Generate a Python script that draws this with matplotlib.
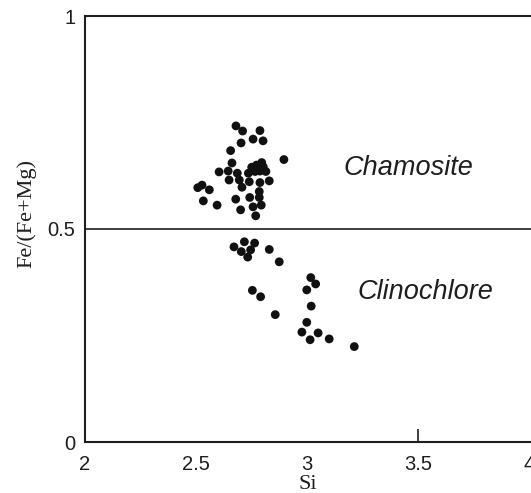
import matplotlib
matplotlib.use("Agg")
import matplotlib.pyplot as plt

# Si vs Fe/(Fe+Mg) chlorite analyses
si = [2.680, 2.710, 2.788, 2.757, 2.802, 2.703, 2.656, 2.896, 2.662,
      2.751, 2.773, 2.796, 2.803, 2.788, 2.766, 2.736, 2.815, 2.776,
      2.604, 2.645, 2.686, 2.649, 2.695, 2.740, 2.788, 2.830, 2.707,
      2.508, 2.527, 2.560, 2.785, 2.785, 2.533, 2.595, 2.679, 2.742,
      2.794, 2.757, 2.701, 2.769,
      2.671, 2.718, 2.764, 2.704, 2.746, 2.733, 2.830, 2.875, 3.017,
      3.039, 2.999, 2.754, 2.791, 3.019, 2.857, 2.999, 2.977, 3.050,
      3.014, 3.100, 3.213]
fe_ratio = [0.742, 0.730, 0.731, 0.711, 0.707, 0.702, 0.684, 0.663, 0.655,
            0.645, 0.650, 0.656, 0.646, 0.636, 0.635, 0.631, 0.635, 0.642,
            0.634, 0.636, 0.631, 0.615, 0.615, 0.611, 0.609, 0.613, 0.598,
            0.597, 0.603, 0.592, 0.588, 0.574, 0.566, 0.556, 0.570, 0.574,
            0.556, 0.552, 0.545, 0.531,
            0.458, 0.470, 0.467, 0.447, 0.451, 0.434, 0.452, 0.423, 0.386,
            0.371, 0.357, 0.356, 0.341, 0.319, 0.299, 0.281, 0.258, 0.256,
            0.240, 0.242, 0.224]

boundary = 0.5
x_ticks = [2, 2.5, 3, 3.5, 4]
x_tick_labels = ["2", "2.5", "3", "3.5", "4"]
y_ticks = [0, 0.5, 1]
y_tick_labels = ["0", "0.5", "1"]

ink = "#1e1e1e"
sans = "Liberation Sans"
serif = "Liberation Serif"

fig = plt.figure(figsize=(5.31, 4.93), dpi=100)
ax = fig.add_axes([85 / 531, 51 / 493, 446 / 531, 426 / 493])

ax.scatter(si, fe_ratio, s=40, color="#111111", edgecolors="none", zorder=3)
ax.axhline(boundary, color=ink, lw=1.2)

ax.text(3.455, 0.643, "Chamosite", fontsize=19.5, style="italic",
        family=sans, color=ink, ha="center", va="center")
ax.text(3.532, 0.352, "Clinochlore", fontsize=19.5, style="italic",
        family=sans, color=ink, ha="center", va="center")

ax.set_xlim(2, 2 + 446 / 222)
ax.set_ylim(0, 1)

for side in ["right"]:
    ax.spines[side].set_visible(False)
for side in ["left", "top", "bottom"]:
    ax.spines[side].set_linewidth(1.5)
    ax.spines[side].set_color(ink)

ax.set_xticks(x_ticks)
ax.set_xticklabels(x_tick_labels, family=sans, fontsize=14.5, color=ink)
ax.set_yticks(y_ticks)
ax.set_yticklabels(y_tick_labels, family=sans, fontsize=14.5, color=ink)
ax.tick_params(axis="x", direction="in", length=0, pad=9, colors=ink)
ax.tick_params(axis="y", length=0, pad=7, colors=ink)
# only the 3.5 tick mark is drawn in the original
ax.xaxis.get_major_ticks()[3].tick1line.set_markersize(9.5)
ax.xaxis.get_major_ticks()[3].tick1line.set_markeredgewidth(1.2)

ax.set_xlabel("Si", family=serif, fontsize=16, color=ink, labelpad=1)
ax.set_ylabel("Fe/(Fe+Mg)", family=serif, fontsize=16, color=ink)
ax.yaxis.set_label_coords(-0.108, 0.537)

fig.savefig("out.png", dpi=100)
